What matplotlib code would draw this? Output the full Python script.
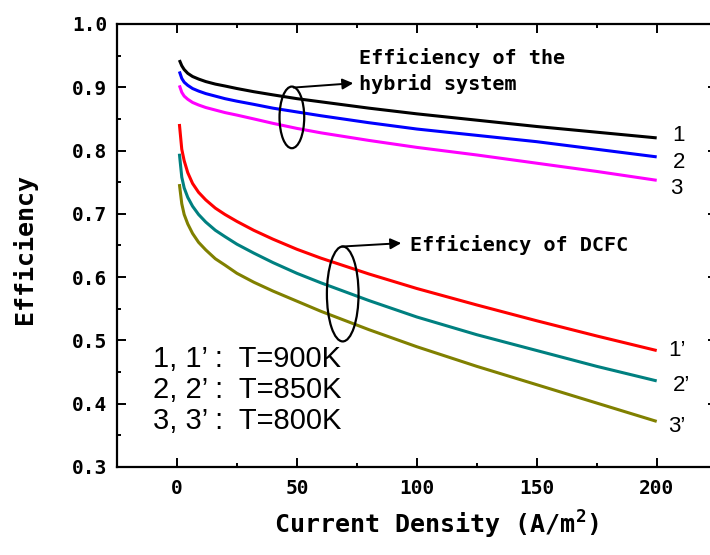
import matplotlib
matplotlib.use("Agg")
import matplotlib.pyplot as plt
from matplotlib.patches import Ellipse
from matplotlib.ticker import MultipleLocator
from matplotlib import font_manager

# ---------------------------------------------------------------
# data
# ---------------------------------------------------------------
current = [1, 2, 3, 4.5, 6.5, 9, 12, 16, 20, 25, 32, 40, 50, 60, 80, 100, 125, 150, 175, 200]

# hybrid system efficiency
hyb_900 = [0.943, 0.934, 0.928, 0.922, 0.917, 0.913, 0.909, 0.905, 0.902, 0.898,
           0.893, 0.888, 0.882, 0.877, 0.867, 0.858, 0.848, 0.838, 0.829, 0.820]
hyb_850 = [0.925, 0.914, 0.908, 0.903, 0.898, 0.894, 0.890, 0.886, 0.882, 0.878,
           0.873, 0.867, 0.861, 0.855, 0.844, 0.834, 0.824, 0.814, 0.802, 0.790]
hyb_800 = [0.903, 0.892, 0.886, 0.881, 0.876, 0.872, 0.868, 0.864, 0.860, 0.856,
           0.850, 0.843, 0.835, 0.828, 0.816, 0.805, 0.793, 0.780, 0.767, 0.753]

# DCFC efficiency
dcfc_900 = [0.842, 0.802, 0.784, 0.765, 0.748, 0.734, 0.722, 0.709, 0.699, 0.688,
            0.674, 0.660, 0.644, 0.630, 0.605, 0.582, 0.556, 0.531, 0.507, 0.484]
dcfc_850 = [0.795, 0.758, 0.741, 0.726, 0.712, 0.699, 0.687, 0.674, 0.664, 0.652,
            0.638, 0.623, 0.606, 0.591, 0.563, 0.537, 0.509, 0.484, 0.459, 0.436]
dcfc_800 = [0.747, 0.716, 0.699, 0.684, 0.669, 0.655, 0.643, 0.629, 0.619, 0.606,
            0.592, 0.578, 0.562, 0.546, 0.517, 0.490, 0.459, 0.430, 0.401, 0.372]

series = [
    (hyb_900, "black", "1", (11, 2)),
    (hyb_850, "#0000ff", "2", (12, -4)),
    (hyb_800, "#ff00ff", "3", (10, -6)),
    (dcfc_900, "#ff0000", "1\u2019", (8, 0)),
    (dcfc_850, "#008080", "2\u2019", (12, -3)),
    (dcfc_800, "#808000", "3\u2019", (8, -4)),
]

legend_lines = ["1, 1\u2019 :  T=900K", "2, 2\u2019 :  T=850K", "3, 3\u2019 :  T=800K"]

# ---------------------------------------------------------------
# fonts
# ---------------------------------------------------------------
available = {f.name for f in font_manager.fontManager.ttflist}
narrow = "Liberation Sans Narrow" if "Liberation Sans Narrow" in available else "Liberation Sans"
mono = "DejaVu Sans Mono"

plt.rcParams["font.family"] = mono
plt.rcParams["mathtext.fontset"] = "custom"
plt.rcParams["mathtext.rm"] = "DejaVu Sans Mono:bold"

# ---------------------------------------------------------------
# figure
# ---------------------------------------------------------------
fig = plt.figure(figsize=(7.10, 5.55), dpi=100)
ax = fig.add_axes([0.1648, 0.1586, 0.8446, 0.7982])

for vals, col, lab, off in series:
    ax.plot(current, vals, color=col, lw=2.2, solid_capstyle="butt", solid_joinstyle="round")
    ax.annotate(lab, xy=(current[-1], vals[-1]), xytext=off, textcoords="offset points",
                ha="left", va="center", fontsize=16, family=narrow)

ax.set_xlim(-25, 225)
ax.set_ylim(0.3, 1.0)
ax.xaxis.set_major_locator(MultipleLocator(50))
ax.xaxis.set_minor_locator(MultipleLocator(25))
ax.yaxis.set_major_locator(MultipleLocator(0.1))
ax.yaxis.set_minor_locator(MultipleLocator(0.05))
ax.yaxis.set_major_formatter(plt.FuncFormatter(lambda v, p: f"{v:.1f}"))

ax.tick_params(which="both", direction="in", top=True, right=True, width=1.4)
ax.tick_params(which="major", length=6.5)
ax.tick_params(which="minor", length=3)
ax.tick_params(axis="x", which="major", pad=9)
ax.tick_params(axis="y", which="major", pad=7)
for lbl in ax.get_xticklabels() + ax.get_yticklabels():
    lbl.set_fontsize(14)
    lbl.set_fontweight("bold")
for s in ax.spines.values():
    s.set_linewidth(1.6)

ax.set_ylabel("Efficiency", fontsize=18, fontweight="bold")
ax.yaxis.set_label_coords(-0.134, 0.493)
ax.set_xlabel("Current Density (A/m$^2$)", fontsize=18, fontweight="bold")
ax.xaxis.set_label_coords(0.533, -0.095)

# ---------------------------------------------------------------
# annotations
# ---------------------------------------------------------------
ax.add_patch(Ellipse((47.9, 0.8524), 10.3, 0.0974, fill=False, lw=1.6, ec="black", zorder=5))
ax.annotate("", xy=(73.5, 0.9064), xytext=(48.6, 0.8995),
            arrowprops=dict(arrowstyle="-|>", lw=1.4, color="black", mutation_scale=16, shrinkA=0, shrinkB=0))
ax.text(76, 0.926, "Efficiency of the\nhybrid system", fontsize=14.5, fontweight="bold",
        ha="left", va="center", linespacing=1.35)

ax.add_patch(Ellipse((69.1, 0.5734), 13.2, 0.150, fill=False, lw=1.6, ec="black", zorder=5))
ax.annotate("", xy=(93.5, 0.6537), xytext=(68.75, 0.6483),
            arrowprops=dict(arrowstyle="-|>", lw=1.4, color="black", mutation_scale=16, shrinkA=0, shrinkB=0))
ax.text(97, 0.651, "Efficiency of DCFC", fontsize=14.5, fontweight="bold", ha="left", va="center")

ax.text(0.06, 0.174, "\n".join(legend_lines), transform=ax.transAxes, fontsize=21,
        family=narrow, ha="left", va="center", linespacing=1.12)

fig.savefig("out.png", dpi=100)
